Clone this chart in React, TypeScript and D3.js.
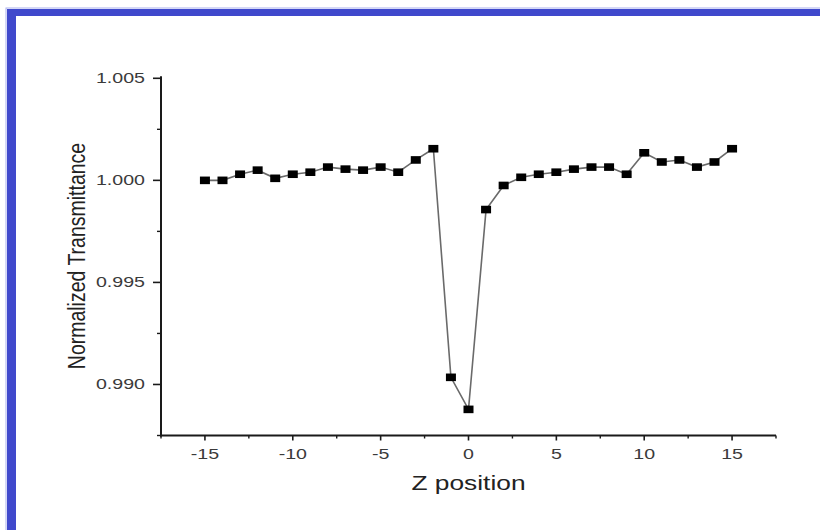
import React from "react";
import * as d3 from "d3";

const zPositions: number[] = [-15, -14, -13, -12, -11, -10, -9, -8, -7, -6, -5, -4, -3, -2, -1, 0, 1, 2, 3, 4, 5, 6, 7, 8, 9, 10, 11, 12, 13, 14, 15];
const transmittance: number[] = [
  1.0, 1.0, 1.0003, 1.0005, 1.0001, 1.0003, 1.0004, 1.00065, 1.00055, 1.0005, 1.00065, 1.0004, 1.001, 1.00155,
  0.99035, 0.98878,
  0.99857, 0.99975, 1.00015, 1.0003, 1.0004, 1.00055, 1.00065, 1.00065, 1.0003, 1.00135, 1.0009, 1.001, 1.00065, 1.0009, 1.00155,
];
const xMajorTicks: number[] = [-15, -10, -5, 0, 5, 10, 15];
const xMinorTicks: number[] = [-17.5, -12.5, -7.5, -2.5, 2.5, 7.5, 12.5, 17.5];
const yMajorTicks: number[] = [0.99, 0.995, 1.0, 1.005];
const yMinorTicks: number[] = [0.9875, 0.9925, 0.9975, 1.0025];
const xTitle = "Z position";
const yTitle = "Normalized Transmittance";

const W = 820;
const H = 530;

export default function App() {
  const x = d3.scaleLinear().domain([-17.5, 17.5]).range([161, 776]);
  const y = d3.scaleLinear().domain([0.9875, 1.005]).range([435.5, 78.3]);
  const data = zPositions.map((z, i) => ({ z, t: transmittance[i] }));
  const line = d3
    .line<{ z: number; t: number }>()
    .x((d) => x(d.z))
    .y((d) => y(d.t));
  const axisY = y.range()[0];
  const axisX = x.range()[0];
  const font = "Arial, 'Liberation Sans', Helvetica, sans-serif";
  const sx = 1.4;

  return (
    <svg
      width={W}
      height={H}
      style={{ position: "absolute", left: 0, top: 0, background: "#fff" }}
      fontFamily={font}
    >
      <rect x={0} y={0} width={W} height={H} fill="#ffffff" />
      {/* frame */}
      <rect x={6} y={8} width={W} height={H} fill="none" stroke="#aab0ee" strokeWidth={1} />
      <rect x={7} y={9} width={W - 7} height={7} fill="#4049cc" />
      <rect x={7} y={9} width={9} height={H - 9} fill="#4049cc" />

      {/* line */}
      <path d={line(data) || ""} fill="none" stroke="#6a6a6a" strokeWidth={1.6} />
      {data.map((d, i) => (
        <rect key={i} x={x(d.z) - 5} y={y(d.t) - 3.8} width={10} height={7.6} fill="#000" />
      ))}

      {/* y axis */}
      <line x1={axisX} x2={axisX} y1={y(1.005) - 2} y2={axisY + 1} stroke="#1a1a1a" strokeWidth={2} />
      {yMajorTicks.map((t) => (
        <g key={"ym" + t}>
          <line x1={axisX - 8} x2={axisX} y1={y(t)} y2={y(t)} stroke="#1a1a1a" strokeWidth={1.6} />
          <text
            transform={`translate(${axisX - 16},${y(t)}) scale(${sx},1)`}
            textAnchor="end"
            dominantBaseline="central"
            fontSize={14}
            fill="#3a3a3a"
          >
            {d3.format(".3f")(t)}
          </text>
        </g>
      ))}
      {yMinorTicks.map((t) => (
        <line key={"yn" + t} x1={axisX - 4} x2={axisX} y1={y(t)} y2={y(t)} stroke="#1a1a1a" strokeWidth={1.4} />
      ))}

      {/* x axis */}
      <line x1={axisX - 1} x2={x(17.5)} y1={axisY} y2={axisY} stroke="#1a1a1a" strokeWidth={2} />
      {xMajorTicks.map((t) => (
        <g key={"xm" + t}>
          <line x1={x(t)} x2={x(t)} y1={axisY} y2={axisY + 5} stroke="#1a1a1a" strokeWidth={1.6} />
          <text
            transform={`translate(${x(t)},${axisY + 23}) scale(${sx},1)`}
            textAnchor="middle"
            fontSize={14}
            fill="#3a3a3a"
          >
            {t}
          </text>
        </g>
      ))}
      {xMinorTicks.map((t) => (
        <line key={"xn" + t} x1={x(t)} x2={x(t)} y1={axisY} y2={axisY + 3} stroke="#1a1a1a" strokeWidth={1.4} />
      ))}

      {/* titles */}
      <text
        transform={`translate(${x(0)},${axisY + 54}) scale(1.35,1)`}
        textAnchor="middle"
        fontSize={19.5}
        fill="#222"
      >
        {xTitle}
      </text>
      <text
        transform={`translate(77,256) rotate(-90) scale(1,1.25)`}
        textAnchor="middle"
        dominantBaseline="central"
        fontSize={19.5}
        fill="#222"
      >
        {yTitle}
      </text>
    </svg>
  );
}
